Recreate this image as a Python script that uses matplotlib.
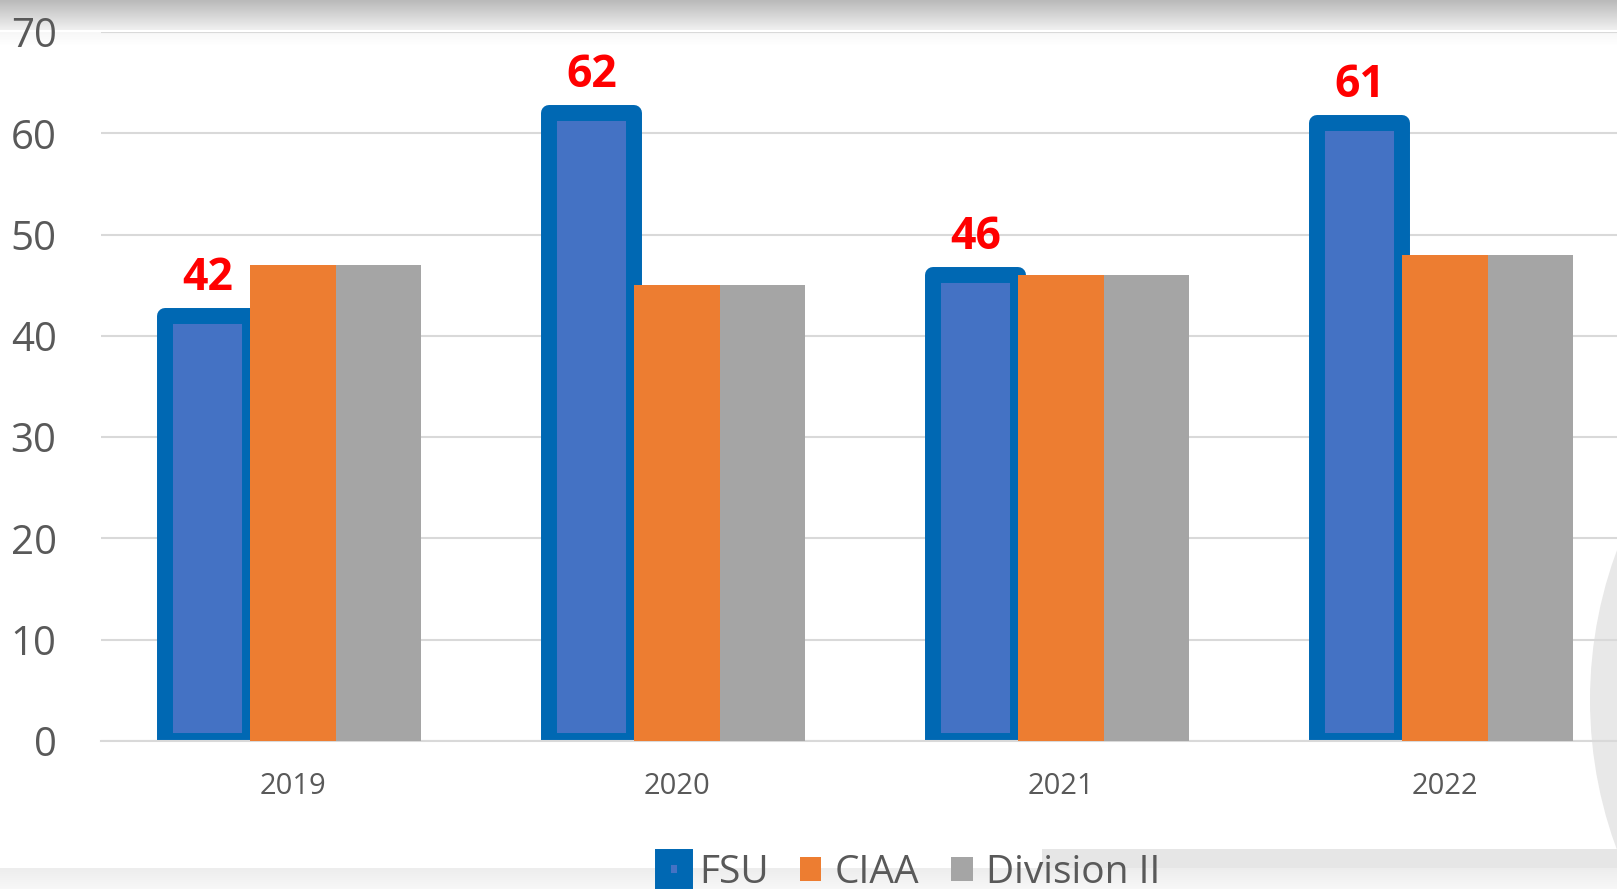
import numpy as np
import matplotlib.pyplot as plt
from matplotlib.patches import Circle, Rectangle

# data
years = ["2019", "2020", "2021", "2022"]
fsu = [42, 62, 46, 61]
ciaa = [47, 45, 46, 48]
div2 = [47, 45, 46, 48]
series_names = ["FSU", "CIAA", "Division II"]
yticks = [0, 10, 20, 30, 40, 50, 60, 70]

W, H = 1617, 889
fig = plt.figure(figsize=(W / 100, H / 100), dpi=100)

# background decoration, drawn in pixel coords
bg = fig.add_axes([0, 0, 1, 1], zorder=-5)
bg.axis("off")
top = np.linspace(0.73, 0.94, 30).reshape(-1, 1)
bg.imshow(np.dstack([top] * 3), extent=(0, W, 30, 0), aspect="auto")
fade = np.linspace(0.97, 1.0, 14).reshape(-1, 1)
bg.imshow(np.dstack([fade] * 3), extent=(0, W, 46, 32), aspect="auto")
bg.add_patch(Circle((2020, 700), 430, color="#e8e8e8", lw=0))
bg.add_patch(Rectangle((1042, 849), W - 1042, 19, color="#e6e6e6", lw=0))
bot = np.linspace(0.93, 0.97, 21).reshape(-1, 1)
bg.imshow(np.dstack([bot] * 3), extent=(0, W, H, 868), aspect="auto")
bg.set_xlim(0, W)
bg.set_ylim(H, 0)

ax = fig.add_axes([101 / W, (H - 741) / H, 1 - 101 / W, (741 - 32) / H])
ax.set_facecolor("none")

x = np.arange(len(years))
w = 0.2225
b1 = ax.bar(x - w, fsu, w, color="#4472c4", edgecolor="#0068b3", linewidth=11.5,
            joinstyle="round", zorder=2, label=series_names[0])
b2 = ax.bar(x, ciaa, w, color="#ed7d31", zorder=3, label=series_names[1])
b3 = ax.bar(x + w, div2, w, color="#a5a5a5", zorder=3, label=series_names[2])

for xi, v in zip(x - w, fsu):
    ax.annotate(str(v), (xi, v), xytext=(0, 18.5), textcoords="offset points",
                ha="center", va="baseline", color="red", fontsize=32,
                fontweight="bold", family="Open Sans")

ax.set_xlim(-0.5, (W - 293) / 384)
ax.set_ylim(0, 70)
ax.set_yticks(yticks)
ax.set_xticks(x)
ax.set_xticklabels(years)
ax.grid(axis="y", color="#d9d9d9", linewidth=1.5, zorder=0)
ax.set_axisbelow(True)
for s in ["top", "right", "left"]:
    ax.spines[s].set_visible(False)
ax.spines["bottom"].set_color("#d9d9d9")
ax.spines["bottom"].set_linewidth(1.5)
ax.tick_params(axis="y", length=0, pad=32, labelsize=29, labelcolor="#595959")
ax.tick_params(axis="x", length=0, pad=22, labelsize=21, labelcolor="#595959")
for lab in ax.get_xticklabels() + ax.get_yticklabels():
    lab.set_family("Open Sans")

fig.legend(handles=[b1, b2, b3], loc="center", bbox_to_anchor=(0.564, 0.018),
           ncol=3, frameon=False, handlelength=0.56, handleheight=0.56,
           handletextpad=0.35, columnspacing=0.8, labelcolor="#595959",
           prop={"family": "Open Sans", "size": 28})

fig.savefig("out.png", dpi=100)
